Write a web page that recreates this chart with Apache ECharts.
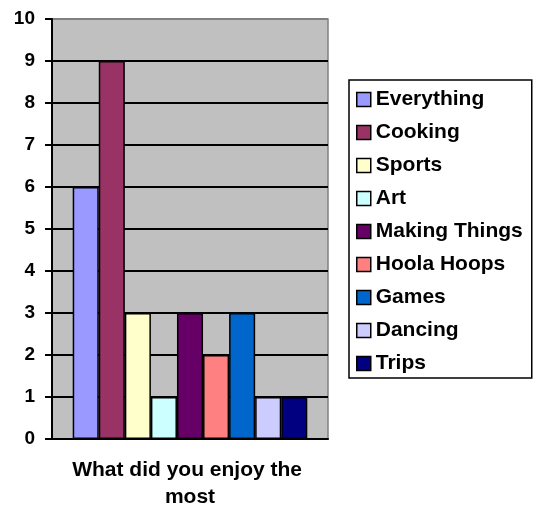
<!DOCTYPE html>
<html>
<head>
<meta charset="utf-8">
<script src="https://cdn.jsdelivr.net/npm/echarts@6/dist/echarts.min.js"></script>
<style>html,body{margin:0;padding:0;background:#fff;}#c{width:536px;height:511px;}</style>
</head>
<body>
<div id="c"></div>
<script>
const categories = ['What did you enjoy the most'];
const seriesNames = ['Everything','Cooking','Sports','Art','Making Things','Hoola Hoops','Games','Dancing','Trips'];
const seriesValues = [6, 9, 3, 1, 3, 2, 3, 1, 1];
const seriesColors = ['#9999FF','#993366','#FFFFCC','#CCFFFF','#660066','#FF8080','#0066CC','#CCCCFF','#000080'];
const yTicks = [0,1,2,3,4,5,6,7,8,9,10];

const FONT = '"Liberation Sans", Arial, sans-serif';
const chart = echarts.init(document.getElementById('c'), null, {renderer:'canvas'});
const gridLineColors = yTicks.map(v => v === 10 ? '#808080' : '#000000');
chart.setOption({
  animation: false,
  backgroundColor: '#ffffff',
  textStyle: {fontFamily: FONT},
  grid: {left: 52, right: 208, top: 19, bottom: 71, show: true, backgroundColor: '#C0C0C0', borderColor: '#808080', borderWidth: 1.5},
  legend: {
    orient: 'vertical', left: 349, top: 80,
    data: seriesNames,
    icon: 'rect', itemWidth: 14, itemHeight: 14, itemGap: 12,
    borderColor: '#000', borderWidth: 1.5,
    padding: [9, 9, 4, 7],
    itemStyle: {borderColor: '#000', borderWidth: 1.5},
    textStyle: {fontFamily: FONT, fontSize: 21, fontWeight: 'bold', color: '#000', lineHeight: 20}
  },
  xAxis: {
    type: 'category', data: categories,
    axisLine: {lineStyle: {color: '#000', width: 2}},
    axisTick: {length: 6, lineStyle: {color: '#000', width: 2}},
    axisLabel: {fontFamily: FONT, fontSize: 21, fontWeight: 'bold', color: '#000', width: 240, overflow: 'break', lineHeight: 27, margin: 18, align: 'center'}
  },
  yAxis: {
    type: 'value', min: 0, max: 10, interval: 1,
    axisLine: {show: true, lineStyle: {color: '#000', width: 2}},
    axisTick: {show: true, length: 7, lineStyle: {color: '#000', width: 2}},
    axisLabel: {fontFamily: FONT, fontSize: 19, fontWeight: 'bold', color: '#000', margin: 17},
    splitLine: {show: true, lineStyle: {color: gridLineColors, width: 2}}
  },
  series: seriesNames.map((n, i) => ({
    name: n, type: 'bar', z: 5,
    data: [seriesValues[i]],
    barGap: '0%', barCategoryGap: '15%',
    itemStyle: {color: seriesColors[i], borderColor: '#000000', borderWidth: 1.5}
  }))
});
</script>
</body>
</html>
